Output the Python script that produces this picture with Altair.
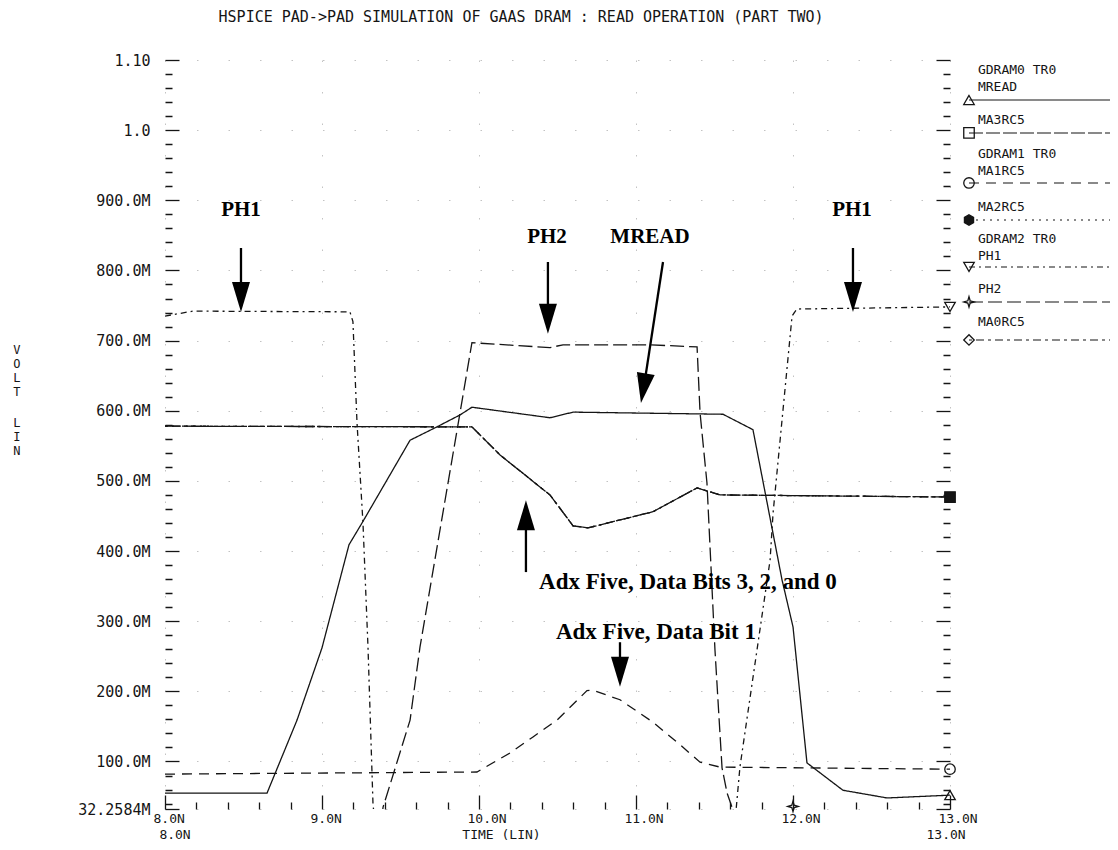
import altair as alt
import pandas as pd

# ------------------------------------------------------------------ data
TITLE = "HSPICE PAD->PAD SIMULATION OF GAAS DRAM : READ OPERATION (PART TWO)"

mread_t = [8.0, 8.65, 8.841, 9.0, 9.172, 9.255, 9.561, 9.732, 9.879, 9.955, 10.452, 10.599,
           11.554, 11.745, 11.93, 12.0, 12.089, 12.318, 12.599, 13.0]
mread_v = [0.055, 0.055, 0.159, 0.262, 0.409, 0.440, 0.558, 0.577, 0.594, 0.605, 0.590, 0.598,
           0.595, 0.573, 0.359, 0.292, 0.098, 0.059, 0.048, 0.052]

bits_t = [8.0, 9.955, 10.134, 10.452, 10.599, 10.694, 11.108, 11.389, 11.535, 13.0]
bits_v = [0.578, 0.577, 0.537, 0.480, 0.436, 0.433, 0.456, 0.490, 0.480, 0.477]

ma1_t = [8.0, 9.987, 10.197, 10.344, 10.497, 10.688, 10.72, 10.898, 11.108, 11.28, 11.408, 11.535, 13.0]
ma1_v = [0.082, 0.085, 0.112, 0.135, 0.159, 0.201, 0.202, 0.188, 0.156, 0.124, 0.099, 0.092, 0.089]

ph1_t = [8.0, 8.178, 9.178, 9.197, 9.223, 9.261, 9.293, 9.325, 9.345, 11.625, 11.662, 11.854,
         11.873, 11.994, 12.025, 13.0]
ph1_v = [0.735, 0.742, 0.741, 0.727, 0.583, 0.440, 0.263, 0.038, 0.0, 0.0, 0.092, 0.387,
         0.454, 0.735, 0.745, 0.748]

ph2_t = [8.0, 9.37, 9.389, 9.561, 9.624, 9.879, 9.955, 10.452, 10.535, 11.089, 11.389, 11.408,
         11.452, 11.503, 11.548, 11.580, 11.611, 11.63, 13.0]
ph2_v = [0.0, 0.0, 0.035, 0.159, 0.263, 0.597, 0.697, 0.690, 0.694, 0.694, 0.691, 0.597,
         0.497, 0.259, 0.091, 0.055, 0.035, 0.0, 0.0]

series_names = ["MREAD", "MA3RC5", "MA2RC5", "MA0RC5", "MA1RC5", "PH1", "PH2"]
series_dash = [[1, 0], [14, 3], [2, 5], [3, 4, 8, 4], [10, 7], [6, 4, 2, 4], [14, 5]]

# end-of-curve markers (time, volt)
end_sym = ["tri_up", "square", "circle", "tri_down", "star"]
end_t = [13.0, 13.0, 13.0, 13.0, 12.0]
end_v = [0.052, 0.477, 0.089, 0.748, 0.036]
end_style = ["open", "filled", "open", "open", "open"]

# axis ticks / labels
y_tick_values = [0.0322584, 0.1, 0.2, 0.3, 0.4, 0.5, 0.6, 0.7, 0.8, 0.9, 1.0, 1.1]
y_tick_labels = ["32.2584M", "100.0M", "200.0M", "300.0M", "400.0M", "500.0M", "600.0M",
                 "700.0M", "800.0M", "900.0M", "1.0", "1.10"]
x_tick_values = [8, 9, 10, 11, 12, 13]
x_tick_labels = ["8.0N", "9.0N", "10.0N", "11.0N", "12.0N", "13.0N"]

# legend block (right side)
legend_text = ["GDRAM0 TR0", "MREAD", None, "MA3RC5", None, "GDRAM1 TR0", "MA1RC5", None,
               "MA2RC5", None, "GDRAM2 TR0", "PH1", None, "PH2", None, "MA0RC5", None]
legend_sym_rows = [2, 4, 7, 9, 12, 14, 16]
legend_sym = ["tri_up", "square", "circle", "hex", "tri_down", "star", "diamond"]
legend_sym_style = ["open", "open", "open", "filled", "open", "open", "open"]
legend_sym_series = ["MREAD", "MA3RC5", "MA1RC5", "MA2RC5", "PH1", "PH2", "MA0RC5"]

# annotations
ann_text = ["PH1", "PH2", "MREAD", "PH1"]
ann_t = [8.484, 10.433, 11.089, 12.376]
ann_v = [0.886, 0.848, 0.848, 0.886]
note_text = ["Adx Five, Data Bits 3, 2, and 0", "Adx Five, Data Bit 1"]
note_t = [11.331, 11.127]
note_v = [0.356, 0.285]

shaft_t = [8.484, 10.439, 11.172, 12.382, 10.299, 10.898]
shaft_v = [0.832, 0.812, 0.812, 0.832, 0.370, 0.270]
shaft_t2 = [8.484, 10.439, 11.057, 12.382, 10.299, 10.898]
shaft_v2 = [0.772, 0.744, 0.644, 0.772, 0.437, 0.238]

head_t = [8.484, 10.439, 11.047, 12.382, 10.299, 10.898]
head_v = [0.762, 0.731, 0.632, 0.762, 0.451, 0.228]
head_angle = [0, 0, 9.3, 0, 180, 0]

# ------------------------------------------------------------------ frames
rows = []
for name, ts, vs in [("MREAD", mread_t, mread_v), ("MA3RC5", bits_t, bits_v),
                     ("MA2RC5", bits_t, bits_v), ("MA0RC5", bits_t, bits_v),
                     ("MA1RC5", ma1_t, ma1_v), ("PH1", ph1_t, ph1_v), ("PH2", ph2_t, ph2_v)]:
    for t, v in zip(ts, vs):
        rows.append({"series": name, "t": t, "v": v})
lines_df = pd.DataFrame(rows)

# legend layout (data coordinates of each legend row)
leg_v = [1.0857, 1.0615, 1.0430, 1.0145, 0.9960, 0.9660, 0.9420, 0.9247, 0.8905,
         0.8720, 0.8450, 0.8205, 0.8050, 0.7736, 0.7551, 0.7266, 0.7009]
LEG_T_SYM, LEG_T_TXT, LEG_T_END = 13.121, 13.178, 14.2

markers_df = pd.DataFrame({"t": end_t, "v": end_v, "sym": end_sym, "style": end_style})
markers_df = pd.concat([markers_df, pd.DataFrame({
    "t": [LEG_T_SYM] * len(legend_sym_rows),
    "v": [leg_v[r] for r in legend_sym_rows],
    "sym": legend_sym, "style": legend_sym_style})], ignore_index=True)

leg_lines = []
for r, s in zip(legend_sym_rows, legend_sym_series):
    leg_lines.append({"series": s, "t": LEG_T_SYM, "v": leg_v[r]})
    leg_lines.append({"series": s, "t": LEG_T_END, "v": leg_v[r]})
leg_lines_df = pd.DataFrame(leg_lines)

leg_text_df = pd.DataFrame({"t": [LEG_T_TXT] * len(legend_text), "v": leg_v,
                            "label": legend_text}).dropna()

ann_df = pd.DataFrame({"t": ann_t, "v": ann_v, "label": ann_text})
note_df = pd.DataFrame({"t": note_t, "v": note_v, "label": note_text})
shaft_df = pd.DataFrame({"t": shaft_t, "v": shaft_v, "t2": shaft_t2, "v2": shaft_v2})
head_df = pd.DataFrame({"t": head_t, "v": head_v, "ang": head_angle})

title_df = pd.DataFrame({"t": [10.268], "v": [1.1613], "label": [TITLE]})
row2_df = pd.DataFrame({"t": [8.064, 12.975], "v": [-0.0046, -0.0046], "label": ["8.0N", "13.0N"]})
ytitle_df = pd.DataFrame({"t": [7.057, 7.057], "v": [0.6938, 0.5897],
                          "label": ["V\nO\nL\nT", "L\nI\nN"]})

# ------------------------------------------------------------------ scales / axes
MONO = "DejaVu Sans Mono"
INK = "#151515"
xs = alt.Scale(domain=[8, 13], nice=False, zero=False)
ys = alt.Scale(domain=[0.0322584, 1.10], nice=False, zero=False)
dash_scale = alt.Scale(domain=series_names, range=series_dash)
sym_names = ["tri_up", "square", "circle", "hex", "tri_down", "star", "diamond"]
sym_paths = ["triangle-up", "square", "circle",
             "M0,-1L0.87,-0.5L0.87,0.5L0,1L-0.87,0.5L-0.87,-0.5Z",
             "triangle-down",
             "M0,-1L0.22,-0.22L1,0L0.22,0.22L0,1L-0.22,0.22L-1,0L-0.22,-0.22Z",
             "diamond"]


def label_expr(values, labels):
    expr = "''"
    for val, lab in zip(values, labels):
        expr = f"abs(datum.value - {val}) < 0.001 ? '{lab}' : ({expr})"
    return expr


y_all = sorted(set([round(0.02 * k, 2) for k in range(2, 56)] + y_tick_values))
x_all = [round(8 + 0.2 * k, 1) for k in range(26)]
Y_MAJOR = "datum.value < 0.035 || abs(datum.value*10 - round(datum.value*10)) < 0.001"
X_MAJOR = "abs(datum.value - round(datum.value)) < 0.001"
MINOR_DASH = [0, 7, 7, 30]
MAJOR_DASH = [30, 1]

y_axis_left = alt.Axis(
    orient="left", values=y_all, offset=-14, tickSize=14, domain=False,
    tickColor=INK, tickWidth=1.3,
    tickDash={"condition": {"test": Y_MAJOR, "value": MAJOR_DASH}, "value": MINOR_DASH},
    labelExpr=label_expr(y_tick_values, y_tick_labels), labelFont=MONO, labelFontSize=15,
    labelColor=INK, labelPadding=15, labelOverlap=False, labelFlush=False, labelBound=False,
    grid=True, gridColor="#888", gridDash=[1.5, 30], gridWidth=1,
    gridOpacity={"condition": {"test": Y_MAJOR, "value": 0.5}, "value": 0},
    title=None)

y_axis_right = alt.Axis(
    orient="right", values=y_all, offset=-14, tickSize=14, domain=False,
    tickColor=INK, tickWidth=1.3,
    tickDash={"condition": {"test": Y_MAJOR, "value": MAJOR_DASH}, "value": MINOR_DASH},
    labels=False, grid=False, title=None)

x_axis = alt.Axis(
    orient="bottom", values=x_all, offset=-14, tickSize=14, domain=False,
    tickColor=INK, tickWidth=1.3,
    tickDash={"condition": {"test": X_MAJOR, "value": MAJOR_DASH}, "value": MINOR_DASH},
    labelExpr=label_expr(x_tick_values, x_tick_labels), labelFont=MONO, labelFontSize=13,
    labelColor=INK, labelAlign="left", labelBaseline="top", labelOffset=-12, labelPadding=3,
    labelOverlap=False, labelFlush=False, labelBound=False,
    grid=True, gridColor="#888", gridDash=[1.5, 30], gridWidth=1,
    gridOpacity={"condition": {"test": X_MAJOR, "value": 0.5}, "value": 0},
    title="TIME (LIN)", titleFont=MONO, titleFontSize=13, titleFontWeight="normal",
    titleColor=INK, titleX=336, titleY=39, titleBaseline="middle", titleAlign="center")

X = alt.X("t:Q", scale=xs, axis=x_axis)


def Yn():
    return alt.Y("v:Q", scale=ys, axis=None)


# ------------------------------------------------------------------ layers
curves = alt.Chart(lines_df).mark_line(clip=True, color=INK, strokeWidth=1.3).encode(
    x=X, y=alt.Y("v:Q", scale=ys, axis=y_axis_left),
    strokeDash=alt.StrokeDash("series:N", scale=dash_scale, legend=None),
    detail="series:N", order="t:Q")

markers = alt.Chart(markers_df).mark_point(filled=True, stroke=INK, strokeWidth=1.3,
                                           size=110, opacity=1).encode(
    x=X, y=alt.Y("v:Q", scale=ys, axis=y_axis_right),
    shape=alt.Shape("sym:N", scale=alt.Scale(domain=sym_names, range=sym_paths), legend=None),
    fill=alt.Fill("style:N", scale=alt.Scale(domain=["open", "filled"],
                                             range=["transparent", INK]), legend=None))

leg_lines_layer = alt.Chart(leg_lines_df).mark_line(color=INK, strokeWidth=1.1).encode(
    x=X, y=Yn(),
    strokeDash=alt.StrokeDash("series:N", scale=dash_scale, legend=None),
    detail="series:N")

leg_text_layer = alt.Chart(leg_text_df).mark_text(
    font=MONO, fontSize=13, align="left", baseline="middle", color=INK).encode(
    x=X, y=Yn(), text="label:N")

ann_layer = alt.Chart(ann_df).mark_text(
    font="Liberation Serif", fontWeight="bold", fontSize=21, align="center",
    baseline="middle", color="#000").encode(x=X, y=Yn(), text="label:N")

note_layer = alt.Chart(note_df).mark_text(
    font="Liberation Serif", fontWeight="bold", fontSize=23, align="center",
    baseline="middle", color="#000").encode(x=X, y=Yn(), text="label:N")

shaft_layer = alt.Chart(shaft_df).mark_rule(color="#000", strokeWidth=2.3).encode(
    x=X, y=Yn(), x2="t2:Q", y2="v2:Q")

head_layer = alt.Chart(head_df).mark_point(
    shape="M-0.6,-1L0.6,-1L0,1Z", size=900, filled=True, color="#000", opacity=1).encode(
    x=X, y=Yn(), angle=alt.Angle("ang:Q", scale=None))

title_layer = alt.Chart(title_df).mark_text(
    font=MONO, fontSize=15, align="center", baseline="middle", color=INK).encode(
    x=X, y=Yn(), text="label:N")

row2_layer = alt.Chart(row2_df).mark_text(
    font=MONO, fontSize=13, align="center", baseline="middle", color=INK).encode(
    x=X, y=Yn(), text="label:N")

ytitle_layer = alt.Chart(ytitle_df).mark_text(
    font=MONO, fontSize=12, align="center", baseline="top", color=INK,
    lineBreak="\n", lineHeight=14).encode(x=X, y=Yn(), text="label:N")

chart = alt.layer(curves, markers, leg_lines_layer, leg_text_layer, ann_layer, note_layer,
                  shaft_layer, head_layer, title_layer, row2_layer, ytitle_layer).resolve_axis(
    y="independent").properties(
    width=785, height=749,
    autosize=alt.AutoSizeParams(type="none"),
    padding={"left": 157, "top": 52, "right": 160, "bottom": 33},
    background="white",
).configure_view(stroke=None)

chart.save("out.html", embed_options={"renderer": "svg", "actions": False})
